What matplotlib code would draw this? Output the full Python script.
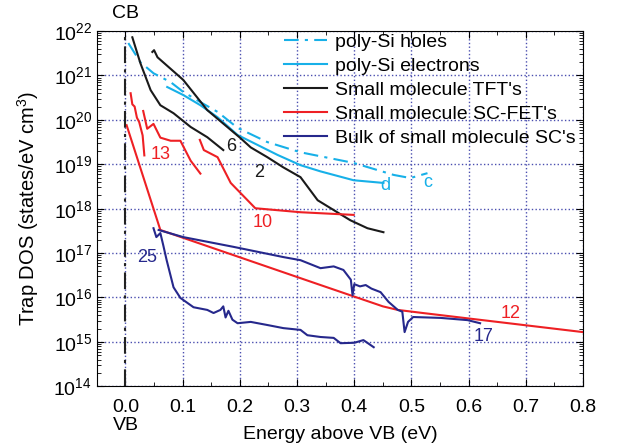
import numpy as np
import matplotlib.pyplot as plt
from matplotlib.ticker import LogLocator, MultipleLocator, NullFormatter

plt.rcParams['font.family'] = ['Liberation Sans', 'DejaVu Sans']
plt.rcParams['mathtext.fontset'] = 'custom'
plt.rcParams['mathtext.rm'] = 'Liberation Sans'
plt.rcParams['mathtext.it'] = 'Liberation Sans:italic'
plt.rcParams['mathtext.bf'] = 'Liberation Sans:bold'

# poly-Si holes (c)
holes_e = [0.005, 0.026, 0.049, 0.079, 0.101, 0.131, 0.161, 0.196, 0.248, 0.306, 0.399, 0.469, 0.498, 0.528]
holes_log = [21.73, 21.30, 21.05, 20.85, 20.63, 20.40, 20.18, 19.82, 19.50, 19.27, 19.03, 18.76, 18.69, 18.80]

# poly-Si electrons (d)
elec_e = [0.073, 0.101, 0.131, 0.161, 0.196, 0.266, 0.306, 0.341, 0.399, 0.451]
elec_log = [20.74, 20.56, 20.33, 20.06, 19.66, 19.21, 18.98, 18.84, 18.64, 18.58]

# small molecule TFT's, curve 2
tft2_e = [0.047, 0.050, 0.056, 0.101, 0.143, 0.201, 0.219, 0.248, 0.276, 0.306, 0.336, 0.393, 0.423, 0.451]
tft2_log = [21.53, 21.57, 21.41, 20.90, 20.22, 19.59, 19.38, 19.16, 18.93, 18.71, 18.19, 17.74, 17.56, 17.47]

# small molecule TFT's, curve 6
tft6_e = [0.012, 0.026, 0.044, 0.061, 0.084, 0.114, 0.143, 0.171]
tft6_log = [21.86, 21.28, 20.67, 20.33, 20.15, 19.84, 19.61, 19.32]

# small molecule SC-FET's, curve 13 (two pieces)
fet13a_e = [0.009, 0.012, 0.016, 0.020, 0.024, 0.030, 0.033]
fet13a_log = [20.60, 20.35, 20.30, 20.05, 19.95, 19.65, 19.20]
fet13b_e = [0.031, 0.038, 0.049, 0.061, 0.079, 0.096, 0.114, 0.131]
fet13b_log = [20.20, 19.80, 19.91, 19.60, 19.53, 19.53, 19.08, 18.79]

# small molecule SC-FET's, curve 10
fet10_e = [0.130, 0.137, 0.161, 0.184, 0.227, 0.306, 0.399]
fet10_log = [19.55, 19.32, 19.16, 18.58, 18.01, 17.92, 17.86]

# small molecule SC-FET's, curve 12
fet12_e = [0.002, 0.061, 0.341, 0.450, 0.476, 0.52, 0.8]
fet12_log = [19.88, 17.52, 16.28, 15.80, 15.72, 15.65, 15.22]

# bulk of small molecule SC's, curve 25
bulk25_e = [0.049, 0.054, 0.061, 0.066, 0.072, 0.084, 0.096, 0.119, 0.143, 0.154, 0.166, 0.171,
            0.175, 0.180, 0.187, 0.196, 0.219, 0.248, 0.276, 0.306, 0.318, 0.341, 0.364, 0.376,
            0.400, 0.416, 0.434]
bulk25_log = [17.56, 17.36, 17.45, 17.18, 16.84, 16.23, 15.99, 15.78, 15.72, 15.65, 15.72, 15.80,
              15.55, 15.70, 15.50, 15.42, 15.45, 15.38, 15.31, 15.27, 15.15, 15.11, 15.09, 14.97,
              14.98, 15.04, 14.88]

# bulk of small molecule SC's, curve 17
bulk17_e = [0.058, 0.101, 0.189, 0.276, 0.306, 0.341, 0.364, 0.381, 0.394, 0.397, 0.400, 0.410,
            0.420, 0.430, 0.446, 0.460, 0.476, 0.484, 0.488, 0.494, 0.503, 0.551, 0.598, 0.62]
bulk17_log = [17.52, 17.36, 17.14, 16.91, 16.84, 16.66, 16.70, 16.62, 16.40, 16.05, 16.30, 16.25,
              16.28, 16.20, 16.12, 15.90, 15.72, 15.68, 15.22, 15.45, 15.56, 15.54, 15.49, 15.42]

# curve labels: text, energy, log10(DOS)
curve_labels = ['c', 'd', '2', '6', '13', '10', '12', '17', '25']
label_e = [0.528, 0.455, 0.233, 0.184, 0.061, 0.240, 0.673, 0.626, 0.038]
label_log = [18.58, 18.53, 18.82, 19.39, 19.21, 17.70, 15.65, 15.11, 16.91]

cyan = '#17b0e8'
red = '#ee2024'
navy = '#26288c'
black = '#1a1a1a'
label_colors = [cyan, cyan, black, black, red, red, red, navy, navy]
pw = lambda v: 10 ** np.array(v)

fig, ax = plt.subplots(figsize=(6.17, 4.44), dpi=100)
fig.subplots_adjust(left=0.157, right=0.945, top=0.93, bottom=0.13)

ax.plot(holes_e, pw(holes_log), color=cyan, lw=1.5, dashes=(7, 3, 1.5, 3), label='poly-Si holes')
ax.plot(elec_e, pw(elec_log), color=cyan, lw=1.5, label='poly-Si electrons')
ax.plot(tft2_e, pw(tft2_log), color=black, lw=1.5, label="Small molecule TFT's")
ax.plot(tft6_e, pw(tft6_log), color=black, lw=1.5)
ax.plot(fet13a_e, pw(fet13a_log), color=red, lw=1.5, label="Small molecule SC-FET's")
ax.plot(fet13b_e, pw(fet13b_log), color=red, lw=1.5)
ax.plot(fet10_e, pw(fet10_log), color=red, lw=1.5)
ax.plot(fet12_e, pw(fet12_log), color=red, lw=1.5)
ax.plot(bulk25_e, pw(bulk25_log), color=navy, lw=1.5, label="Bulk of small molecule SC's")
ax.plot(bulk17_e, pw(bulk17_log), color=navy, lw=1.5)

ax.axvline(0.0, color='#222222', lw=1.5, dashes=(8, 3, 1.5, 3))

ax.set_yscale('log')
ax.set_xlim(-0.05, 0.8)
ax.set_ylim(1e14, 1e22)
ax.xaxis.set_minor_locator(MultipleLocator(0.05))
ax.yaxis.set_major_locator(LogLocator(base=10, numticks=20))
ax.yaxis.set_minor_locator(LogLocator(base=10, subs=np.arange(2, 10), numticks=20))
ax.yaxis.set_minor_formatter(NullFormatter())
ax.set_xticks(np.arange(0, 0.81, 0.1))
ax.set_xticklabels(['%.1f' % v for v in np.arange(0, 0.81, 0.1)])
ax.tick_params(which='both', direction='in', top=True, right=True, labelsize=14)
ax.tick_params(which='major', length=5)
ax.tick_params(which='minor', length=3)
ax.tick_params(axis='x', which='major', pad=9)
ax.grid(True, which='major', color='#4b4fb0', ls=':', lw=1)

ax.set_xlabel('Energy above VB (eV)', fontsize=14, labelpad=7)
ax.set_ylabel('Trap DOS (states/eV cm$^3$)', fontsize=14.5, labelpad=9)

ax.text(0.0, 1.025, 'CB', transform=ax.get_xaxis_transform(), ha='center', va='bottom', fontsize=14)
ax.text(0.0, -0.11, 'VB', transform=ax.get_xaxis_transform(), ha='center', va='center', fontsize=14)

for t, e, lg, c in zip(curve_labels, label_e, label_log, label_colors):
    ax.text(e, 10 ** lg, t, color=c, fontsize=13, ha='center', va='center')

ax.legend(loc='upper right', bbox_to_anchor=(1.0, 1.015), frameon=False, fontsize=14,
          handlelength=2.2, borderaxespad=0, labelspacing=0.33, handletextpad=0.4)

fig.savefig('out.png')
